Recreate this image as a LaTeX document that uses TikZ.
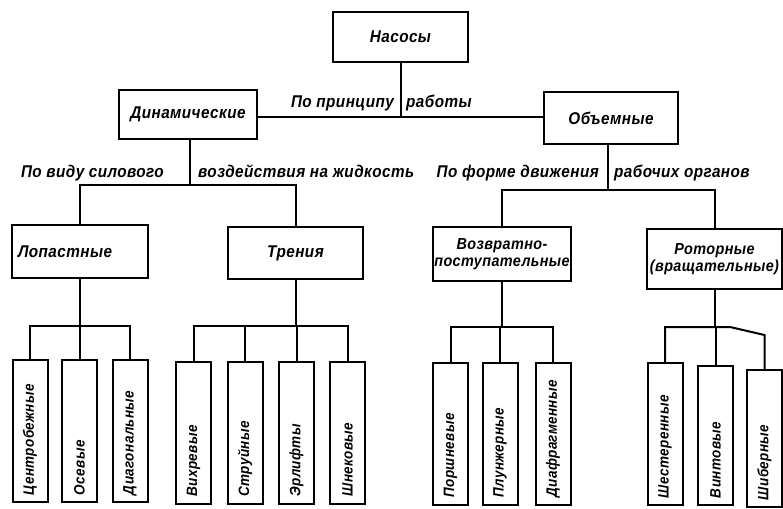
\documentclass[tikz,border=0pt]{standalone}
\usepackage{fontspec}
\newfontfamily\lblfont{Liberation Sans}[FakeStretch=0.9,LetterSpace=2.5]
\newcommand\lbl{\lblfont\bfseries\itshape\fontsize{17}{18}\selectfont}
\newcommand\lblsm{\lblfont\bfseries\itshape\fontsize{16}{17}\selectfont}
\newcommand\lblleaf{\lblfont\bfseries\itshape\fontsize{15}{16}\selectfont}
\begin{document}
\begin{tikzpicture}[x=1pt,y=-1pt,
  box/.style={draw, line width=2pt, inner sep=1pt, font=\lbl, align=center},
  leaf/.style={draw, line width=2pt, rotate=90, minimum width=142pt, minimum height=35pt, text width=128pt, align=left, inner sep=0pt, font=\lblleaf},
  ln/.style={line width=2pt},
  lab/.style={font=\lbl, inner sep=0pt}]
\useasboundingbox (0,0) rectangle (783,508);
% top
\node[box, minimum width=135pt, minimum height=50pt] (nas) at (400.5,37) {Насосы};
\node[box, minimum width=138pt, minimum height=49pt] (din) at (188,114.5) {Динамические};
\node[box, minimum width=134pt, minimum height=52pt] (obj) at (611,118) {Объемные};
\coordinate (j0) at (400.5,117);
\draw[ln] (nas.south) -- (j0);
\draw[ln] (din.east |- j0) -- (obj.west |- j0);
\node[lab, anchor=base east] (t1) at (394,107) {По принципу};
\node[lab, anchor=base west] (t2) at (406,107) {работы};
% second level
\node[box, minimum width=136pt, minimum height=53pt, text width=124pt, align=left] (lop) at (80,251.5) {Лопастные};
\node[box, minimum width=135pt, minimum height=52pt] (tre) at (295.5,253) {Трения};
\node[box, minimum width=138pt, minimum height=54pt, font=\lblsm] (voz) at (502,254) {Возвратно-\\поступательные};
\node[box, minimum width=135pt, minimum height=60pt, font=\lblsm] (rot) at (714.5,259) {Роторные\\(вращательные)};
\coordinate (j1) at (190,185);
\draw[ln] (j1 |- din.south) -- (j1);
\draw[ln] (lop.north) |- (j1) -| (tre.north);
\node[lab, anchor=base east] (t3) at (164,177) {По виду силового};
\node[lab, anchor=base west] (t4) at (198,177) {воздействия на жидкость};
\coordinate (j2) at (608,190);
\draw[ln] (j2 |- obj.south) -- (j2);
\draw[ln] (voz.north) |- (j2) -| (rot.north);
\node[lab, anchor=base east] (t5) at (599,177) {По форме движения};
\node[lab, anchor=base west] (t6) at (614,177) {рабочих органов};
% leaves
\node[leaf] (a1) at (30,431) {Центробежные};
\node[leaf] (a2) at (79.5,431) {Осевые};
\node[leaf] (a3) at (130,431) {Диагональные};
\node[leaf] (b1) at (193.5,432.5) {Вихревые};
\node[leaf] (b2) at (245,432.5) {Струйные};
\node[leaf] (b3) at (296.5,432.5) {Эрлифты};
\node[leaf] (b4) at (347.5,432.5) {Шнековые};
\node[leaf] (c1) at (450.5,433.5) {Поршневые};
\node[leaf] (c2) at (500,433.5) {Плунжерные};
\node[leaf] (c3) at (553,433.5) {Диафрагменные};
\node[leaf] (d1) at (665,434) {Шестеренные};
\node[leaf, minimum width=139pt, text width=125pt] (d2) at (715.5,435.5) {Винтовые};
\node[leaf, minimum width=137pt, text width=123pt] (d3) at (764.5,438.5) {Шиберные};
% buses
\coordinate (ka) at (79,326);
\draw[ln] (lop.south) -- (lop.south |- ka);
\draw[ln] (a1.east) |- (ka) -| (a3.east);
\draw[ln] (a2.east) -- (a2.east |- ka);
\coordinate (kb) at (295.5,326);
\draw[ln] (tre.south) -- (kb);
\draw[ln] (b1.east) |- (kb) -| (b4.east);
\draw[ln] (b2.east) -- (b2.east |- kb);
\draw[ln] (b3.east) -- (b3.east |- kb);
\coordinate (kc) at (502,327);
\draw[ln] (voz.south) -- (kc);
\draw[ln] (c1.east) |- (kc) -| (c3.east);
\draw[ln] (c2.east) -- (c2.east |- kc);
\coordinate (kd) at (714.5,327);
\coordinate (kd2) at (730,327);
\coordinate (kd3) at (764.5,335);
\draw[ln] (rot.south) -- (kd);
\draw[ln] (d1.east) |- (kd) -- (kd2) -- (kd3) -- (d3.east);
\draw[ln] (d2.east) -- (d2.east |- kd);
\end{tikzpicture}
\end{document}
